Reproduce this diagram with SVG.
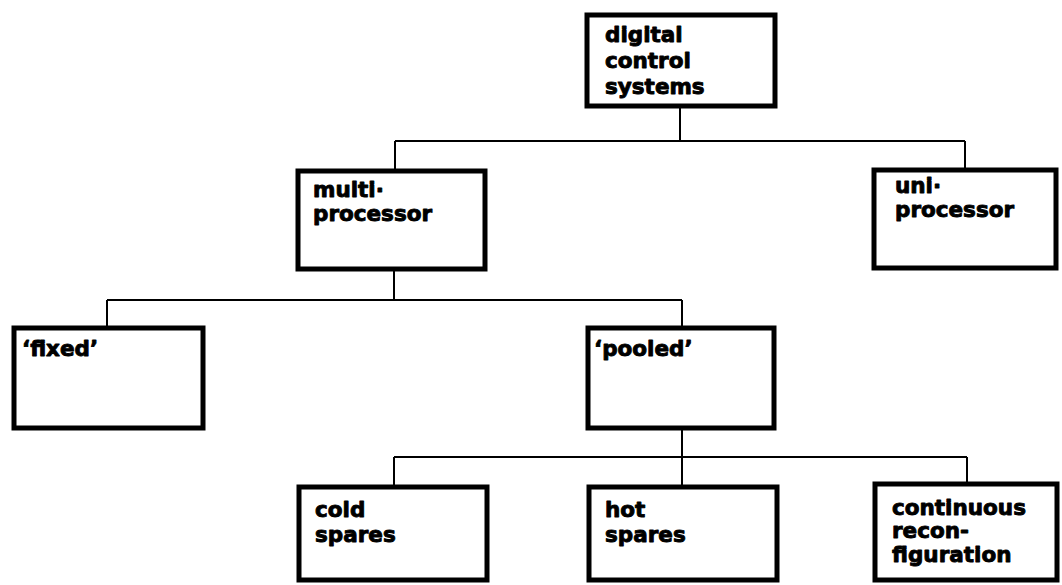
<svg xmlns="http://www.w3.org/2000/svg" width="1062" height="585" viewBox="0 0 1062 585">
  <style>
    .box { fill: #ffffff; stroke: #000000; stroke-width: 5; }
    .lbl { font-family: "DejaVu Sans", "Liberation Sans", sans-serif; font-weight: bold; font-size: 21.5px; fill: #000000; stroke: #000000; stroke-width: 0.9; stroke-linejoin: round; }
    .wire { fill: none; stroke: #000000; stroke-width: 2; }
  </style>
  <rect width="1062" height="585" fill="#ffffff"/>

  <!-- tree connectors -->
  <g id="connectors">
    <path class="wire" d="M680 106 V141 M395 141 H965 M395 141 V170 M965 141 V169"/>
    <path class="wire" d="M394 269 V300 M107 300 H682 M107 300 V327 M682 300 V327"/>
    <path class="wire" d="M682 428 V457 M394 457 H967 M394 457 V485 M682 457 V485 M967 457 V483"/>
  </g>

  <g id="digital-control-systems">
    <rect class="box" x="587" y="15" width="188" height="91"/>
    <text class="lbl" x="605" y="42">digital</text>
    <text class="lbl" x="605" y="68">control</text>
    <text class="lbl" x="605" y="94">systems</text>
  </g>

  <g id="multi-processor">
    <rect class="box" x="298" y="171" width="187" height="98"/>
    <text class="lbl" x="313" y="197">multi·</text>
    <text class="lbl" x="313" y="221">processor</text>
  </g>

  <g id="uni-processor">
    <rect class="box" x="874" y="170" width="182" height="98"/>
    <text class="lbl" x="895" y="193">uni·</text>
    <text class="lbl" x="895" y="217">processor</text>
  </g>

  <g id="fixed">
    <rect class="box" x="14" y="328" width="189" height="100"/>
    <text class="lbl" x="22" y="356">‘fixed’</text>
  </g>

  <g id="pooled">
    <rect class="box" x="588" y="328" width="186" height="100"/>
    <text class="lbl" x="594" y="356">‘pooled’</text>
  </g>

  <g id="cold-spares">
    <rect class="box" x="299" y="487" width="188" height="93"/>
    <text class="lbl" x="315" y="517">cold</text>
    <text class="lbl" x="315" y="542">spares</text>
  </g>

  <g id="hot-spares">
    <rect class="box" x="589" y="487" width="188" height="93"/>
    <text class="lbl" x="605" y="517">hot</text>
    <text class="lbl" x="605" y="542">spares</text>
  </g>

  <g id="continuous-reconfiguration">
    <rect class="box" x="875" y="484" width="182" height="96"/>
    <text class="lbl" x="892" y="515">continuous</text>
    <text class="lbl" x="892" y="538">recon-</text>
    <text class="lbl" x="892" y="562">figuration</text>
  </g>
</svg>
